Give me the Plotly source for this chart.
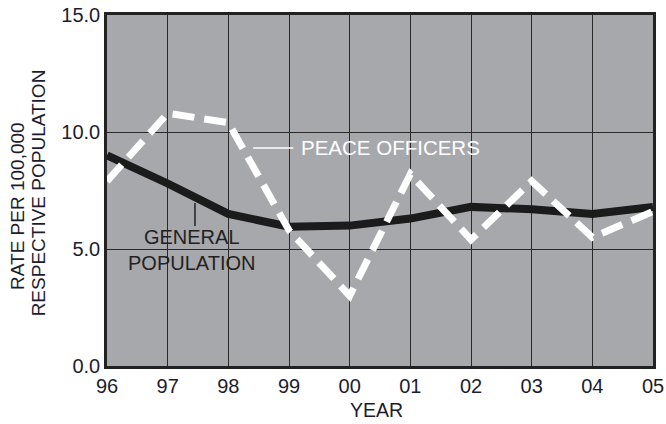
import plotly.graph_objects as go

# Years (two-digit labels) and rates per 100,000 of each population
years = ["96", "97", "98", "99", "00", "01", "02", "03", "04", "05"]
general_population = [9.0, 7.8, 6.5, 5.95, 6.0, 6.3, 6.8, 6.7, 6.5, 6.8]
peace_officers = [7.9, 10.8, 10.4, 5.8, 3.0, 8.2, 5.4, 7.9, 5.5, 6.6]

y_tick_vals = [0, 5, 10, 15]
y_tick_text = ["0.0", "5.0", "10.0", "15.0"]

x_idx = list(range(len(years)))

TEXT = "#1c1c2e"
FONT = "Liberation Sans, Arial, sans-serif"

fig = go.Figure()

fig.add_trace(go.Scatter(
    x=x_idx, y=general_population, mode="lines",
    line=dict(color="#1b1b1b", width=8),
    hoverinfo="skip", showlegend=False,
))
fig.add_trace(go.Scatter(
    x=x_idx, y=peace_officers, mode="lines",
    line=dict(color="#ffffff", width=7, dash="22px,10px"),
    hoverinfo="skip", showlegend=False,
))

# Series labels with their leader lines
fig.add_shape(type="line", xref="x", yref="y", x0=2.41, x1=3.07, y0=9.32, y1=9.32,
              line=dict(color="#ffffff", width=1.5))
fig.add_shape(type="line", xref="x", yref="y", x0=1.45, x1=1.45, y0=6.97, y1=5.98,
              line=dict(color="#222222", width=1.5))

fig.add_annotation(x=3.165, y=9.32, xref="x", yref="y", text="PEACE OFFICERS",
                   showarrow=False, xanchor="left", yanchor="middle",
                   font=dict(family=FONT, size=20.5, color="#ffffff"))
fig.add_annotation(x=1.40, y=4.94, xref="x", yref="y", text="GENERAL<br>POPULATION",
                   showarrow=False, xanchor="center", yanchor="middle", align="center",
                   font=dict(family=FONT, size=20, color="#222222"))

# Axis titles
fig.add_annotation(x=-0.163, y=0.456, xref="paper", yref="paper", text="RATE PER 100,000",
                   showarrow=False, textangle=-90, xanchor="center", yanchor="middle",
                   font=dict(family=FONT, size=19, color=TEXT))
fig.add_annotation(x=-0.125, y=0.494, xref="paper", yref="paper", text="RESPECTIVE POPULATION",
                   showarrow=False, textangle=-90, xanchor="center", yanchor="middle",
                   font=dict(family=FONT, size=19, color=TEXT))
fig.add_annotation(x=0.493, y=-0.124, xref="paper", yref="paper", text="YEAR",
                   showarrow=False, xanchor="center", yanchor="middle",
                   font=dict(family=FONT, size=19.5, color=TEXT))

fig.update_xaxes(
    range=[0, 9], tickvals=x_idx, ticktext=years,
    showgrid=True, gridcolor="#2a2a2a", gridwidth=1,
    showline=True, mirror=True, linecolor="#222222", linewidth=2.5,
    ticks="", zeroline=False, automargin=False,
    tickfont=dict(family=FONT, size=20, color=TEXT),
)
fig.update_yaxes(
    range=[0, 15], tickvals=y_tick_vals, ticktext=y_tick_text,
    showgrid=True, gridcolor="#2a2a2a", gridwidth=1,
    showline=True, mirror=True, linecolor="#222222", linewidth=2.5,
    ticks="", zeroline=False, automargin=False,
    tickfont=dict(family=FONT, size=20, color=TEXT),
)

fig.update_layout(
    width=666, height=424,
    margin=dict(l=107, r=13, t=15, b=58, autoexpand=False),
    plot_bgcolor="#a7a8ac", paper_bgcolor="#ffffff",
    showlegend=False,
)

fig.write_html("out.html")
